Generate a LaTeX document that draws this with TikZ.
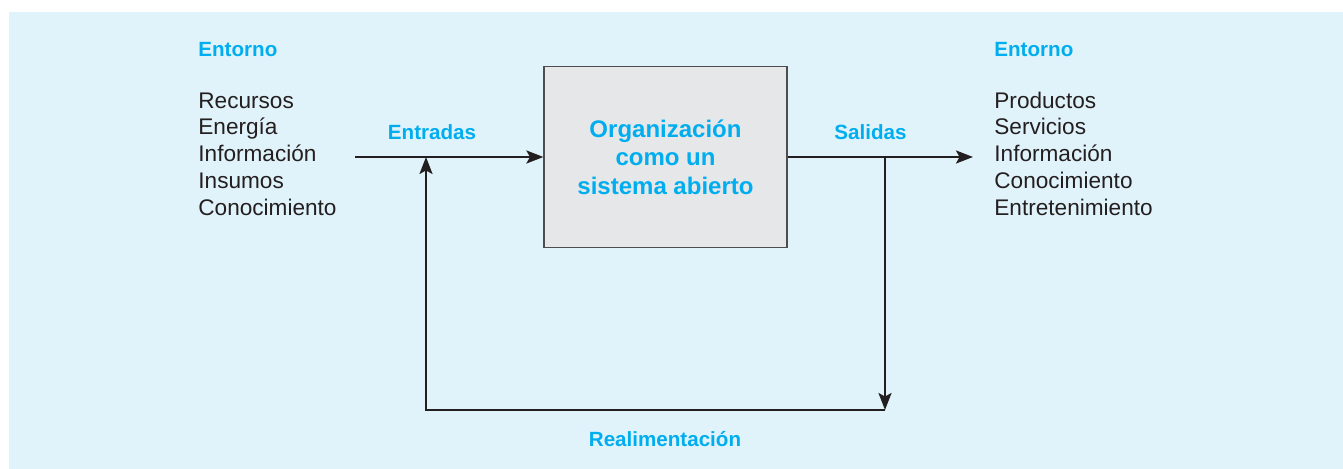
\documentclass[tikz,border=0pt]{standalone}
\usepackage{fontspec}
\setmainfont{Liberation Sans}
\usetikzlibrary{arrows.meta}

\definecolor{cian}{HTML}{00AEEF}
\definecolor{fondo}{HTML}{E1F3FA}
\definecolor{caja}{HTML}{E6E7E8}
\definecolor{tinta}{HTML}{231F20}
\definecolor{borde}{HTML}{4D4D4F}

\begin{document}
\begin{tikzpicture}[x=0.5pt,y=-0.5pt,
        lista/.style={anchor=base west,inner sep=0,text=tinta,font=\fontsize{11.3}{13}\selectfont},
        titulo/.style={anchor=base,inner sep=0,text=cian,font=\bfseries\fontsize{10.3}{12}\selectfont},
        flecha/.style={line width=1.2pt,draw=tinta,-{Stealth[length=8.5pt,width=6.5pt,inset=1.8pt]}}]
        \useasboundingbox (0,0) rectangle (1343,469);
        \fill[fondo] (9,12) rectangle (1343,469);

        % Environment, left and right
        \node (Lentorno) at (198,57) [titulo,anchor=base west] {Entorno};
        \node (Rentorno) at (994,57) [titulo,anchor=base west] {Entorno};
        \foreach \t [count=\i] in {Recursos,Energía,Información,Insumos,Conocimiento}
            \node (Lin\i) at (198,81.3+26.75*\i) [lista] {\t};
        \foreach \t [count=\i] in {Productos,Servicios,Información,Conocimiento,Entretenimiento}
            \node (Rout\i) at (994,81.3+26.75*\i) [lista] {\t};

        % The organisation
        \node (Org) at (665.5,157) [draw=borde,line width=0.6pt,fill=caja,minimum width=121.5pt,minimum height=90.5pt,
                                   align=center,text=cian,font=\bfseries\fontsize{12}{14.3}\selectfont]
                                   {Organización\\como un\\sistema abierto};

        \node (Entradas) at (432,140) [titulo] {Entradas};
        \node (Salidas)  at (870.5,139.5) [titulo] {Salidas};
        \node (Realim)   at (665,446.5) [titulo] {Realimentación};

        \coordinate (Ein)     at (355,157);
        \coordinate (Eup)     at (426,157);
        \coordinate (Edown)   at (426,410);
        \coordinate (Sbranch) at (885,157);
        \coordinate (Sdown)   at (885,410);
        \coordinate (Sout)    at (973,157);

        % Flow arrows
        \draw[flecha] (Ein) -- (Org.west);
        \draw[flecha] (Org.east) -- (Sout);
        \draw[flecha] (Sbranch) -- (Sdown);
        \draw[flecha] (Sdown) -- (Edown) -- (Eup);
\end{tikzpicture}
\end{document}
